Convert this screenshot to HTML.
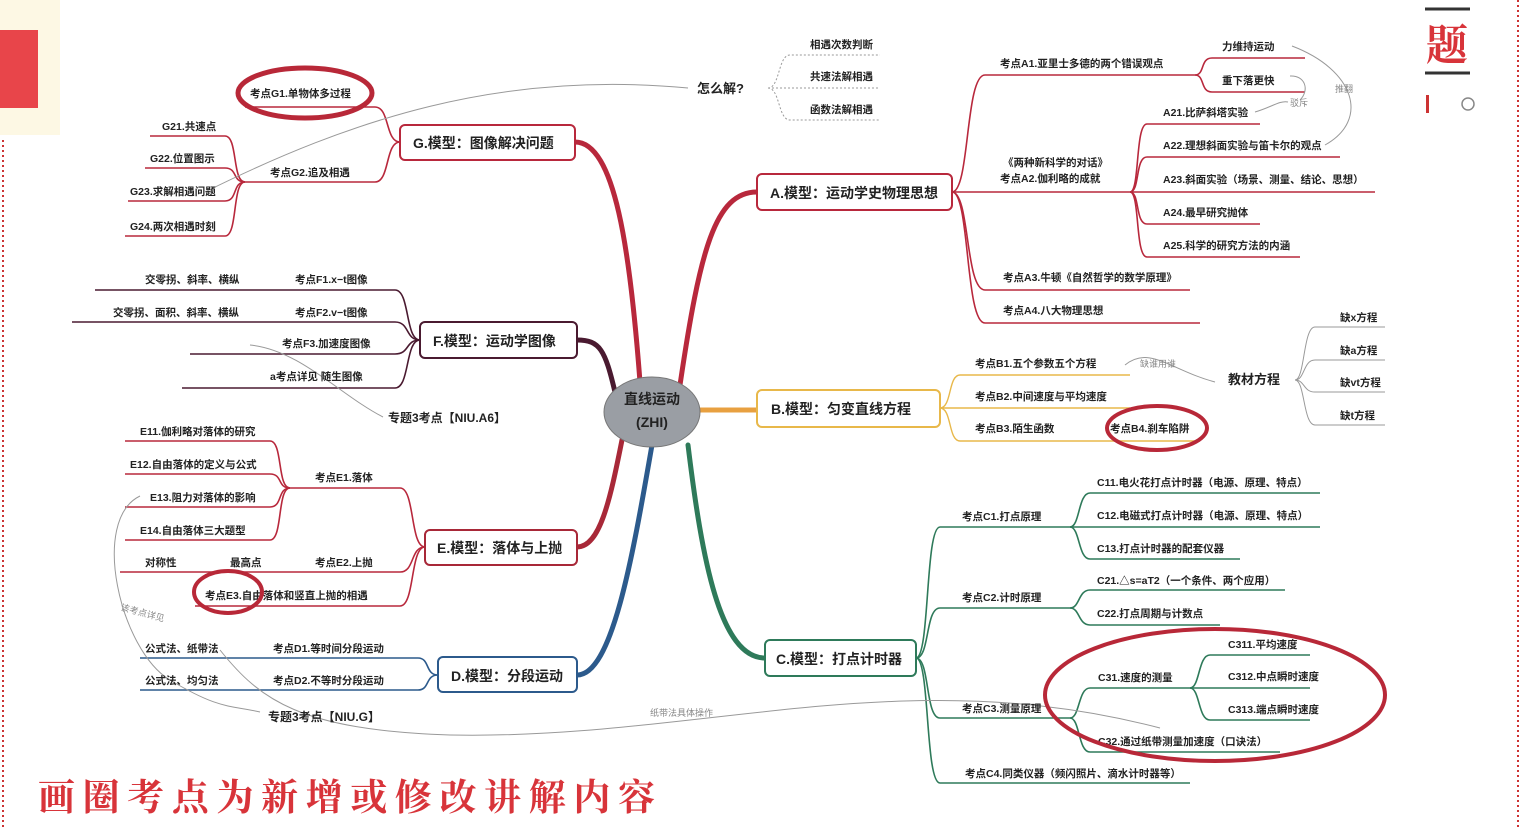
<!DOCTYPE html>
<html><head><meta charset="utf-8"><style>
html,body{margin:0;padding:0;background:#fff;}
svg{display:block;}
text{font-family:"Liberation Sans","Noto Sans CJK SC",sans-serif;font-weight:bold;fill:#222;}
.t{font-size:10.5px;}
.b{font-size:14px;}
.g{fill:#888;font-size:9px;font-weight:normal;}
</style></head><body>
<svg width="1525" height="828" viewBox="0 0 1525 828" xmlns="http://www.w3.org/2000/svg">
<rect x="0" y="0" width="60" height="135" fill="#fdf8e4"/>
<rect x="0" y="30" width="38" height="78" fill="#e8454a"/>
<line x1="3" y1="140" x2="3" y2="828" stroke="#c33" stroke-width="2" stroke-dasharray="2,3"/>
<line x1="1518" y1="0" x2="1518" y2="828" stroke="#c33" stroke-width="2" stroke-dasharray="2,3"/>
<line x1="1425" y1="9" x2="1470" y2="9" stroke="#333" stroke-width="3"/>
<line x1="1425" y1="73" x2="1470" y2="73" stroke="#333" stroke-width="3"/>
<text x="1447" y="60" text-anchor="middle" style="font-size:42px;fill:#d8343a;font-family:'Liberation Serif','Noto Serif CJK SC',serif">题</text>
<rect x="1426" y="95" width="3" height="18" fill="#c33"/>
<circle cx="1468" cy="104" r="6" fill="none" stroke="#888" stroke-width="1.5"/>

<g fill="none" stroke-width="5" stroke-linecap="round">
<path d="M680 385 C700 250 715 192 757 192" stroke="#b8283c"/>
<path d="M640 382 C630 250 615 142 575 142" stroke="#b8283c"/>
<path d="M615 392 C605 350 600 340 577 340" stroke="#4a1a30"/>
<path d="M622 440 C610 500 600 547 577 547" stroke="#a82838"/>
<path d="M652 445 C632 560 612 675 577 675" stroke="#2c5a8c"/>
<path d="M688 445 C702 560 720 658 765 658" stroke="#2e7a5a"/>
<path d="M700 410 H757" stroke="#e8a040"/>
</g>

<g fill="none" stroke="#b8283c" stroke-width="1.6">
<path d="M400 142 C385 142 390 107 375 107 H245"/>
<path d="M400 142 C385 142 390 182 375 182 H245"/>
<path d="M245 182 C232 182 238 136 225 136 H150"/>
<path d="M245 182 C232 182 238 168 225 168 H145"/>
<path d="M245 182 C232 182 238 201 225 201 H128"/>
<path d="M245 182 C232 182 238 236 225 236 H125"/>
<path d="M425 547 C410 547 415 488 400 488 H290"/>
<path d="M425 547 C410 547 415 572 400 572 H120"/>
<path d="M425 547 C410 547 415 606 400 606 H195"/>
<path d="M290 488 C277 488 283 441 270 441 H125"/>
<path d="M290 488 C277 488 283 474 270 474 H125"/>
<path d="M290 488 C277 488 283 507 270 507 H125"/>
<path d="M290 488 C277 488 283 540 270 540 H125"/>
<path d="M952 192 C970 192 965 75 985 75 H1195"/>
<path d="M952 192 H1130"/>
<path d="M952 192 C970 192 965 290 985 290 H1190"/>
<path d="M952 192 C970 192 965 323 985 323 H1200"/>
<path d="M1195 75 C1205 75 1200 58 1212 58 H1305"/>
<path d="M1195 75 C1205 75 1200 92 1212 92 H1305"/>
<path d="M1130 192 C1140 192 1135 124 1147 124 H1260"/>
<path d="M1130 192 C1140 192 1135 157 1147 157 H1340"/>
<path d="M1130 192 H1375"/>
<path d="M1130 192 C1140 192 1135 224 1147 224 H1260"/>
<path d="M1130 192 C1140 192 1135 257 1147 257 H1300"/>
</g>
<g fill="none" stroke="#4a1a30" stroke-width="1.6">
<path d="M420 340 C405 340 410 290 395 290 H95"/>
<path d="M420 340 C405 340 410 322 395 322 H72"/>
<path d="M420 340 C405 340 410 354 395 354 H190"/>
<path d="M420 340 C405 340 410 388 395 388 H182"/>
</g>
<g fill="none" stroke="#2c5a8c" stroke-width="1.6">
<path d="M438 675 C425 675 430 658 418 658 H140"/>
<path d="M438 675 C425 675 430 690 418 690 H140"/>
</g>
<g fill="none" stroke="#e8b84a" stroke-width="1.4">
<path d="M940 408 C952 408 948 375 960 375 H1130"/>
<path d="M940 408 H1130"/>
<path d="M940 408 C952 408 948 441 960 441 H1200"/>
</g>
<g fill="none" stroke="#2e7a5a" stroke-width="1.6">
<path d="M916 658 C930 658 925 527 940 527 H1070"/>
<path d="M916 658 C930 658 925 608 940 608 H1070"/>
<path d="M916 658 C930 658 925 718 940 718 H1070"/>
<path d="M916 658 C930 658 925 783 940 783 H1190"/>
<path d="M1070 527 C1080 527 1078 493 1090 493 H1320"/>
<path d="M1070 527 H1320"/>
<path d="M1070 527 C1080 527 1078 559 1090 559 H1240"/>
<path d="M1070 608 C1080 608 1078 590 1090 590 H1285"/>
<path d="M1070 608 C1080 608 1078 625 1090 625 H1220"/>
<path d="M1070 718 C1080 718 1078 688 1090 688 H1190"/>
<path d="M1070 718 C1080 718 1078 752 1090 752 H1280"/>
<path d="M1190 688 C1200 688 1198 655 1210 655 H1310"/>
<path d="M1190 688 H1310"/>
<path d="M1190 688 C1200 688 1198 720 1210 720 H1310"/>
</g>
<g fill="none" stroke="#999" stroke-width="1">
<path d="M1295 380 C1305 380 1303 327 1315 327 H1385"/>
<path d="M1295 380 C1305 380 1303 360 1315 360 H1385"/>
<path d="M1295 380 C1305 380 1303 392 1315 392 H1385"/>
<path d="M1295 380 C1305 380 1303 425 1315 425 H1385"/>
<path d="M768 88 C780 88 778 55 790 55 H880" stroke-dasharray="2,2"/>
<path d="M768 88 H880" stroke-dasharray="2,2"/>
<path d="M768 88 C780 88 778 120 790 120 H880" stroke-dasharray="2,2"/>
<path d="M205 192 C350 120 500 70 688 88"/>
<path d="M250 345 C300 350 340 395 383 417"/>
<path d="M140 496 C90 520 120 650 170 680 S230 705 260 712"/>
<path d="M220 650 C260 700 300 730 450 735 C700 740 900 660 1160 728"/>
<path d="M1125 365 C1150 345 1170 370 1215 382"/>
<path d="M1255 112 C1270 108 1280 100 1288 102"/>
<path d="M1300 100 C1310 90 1305 75 1290 76"/>
<path d="M1325 145 C1370 120 1355 70 1292 46"/>
</g>

<g stroke-width="2" fill="#fff">
<rect x="400" y="125" width="175" height="35" rx="5" stroke="#b8283c"/>
<rect x="420" y="322" width="157" height="36" rx="5" stroke="#4a1a30"/>
<rect x="425" y="530" width="152" height="35" rx="5" stroke="#a82838"/>
<rect x="438" y="657" width="139" height="35" rx="5" stroke="#2c5a8c"/>
<rect x="757" y="174" width="195" height="36" rx="5" stroke="#b8283c"/>
<rect x="757" y="390" width="183" height="37" rx="5" stroke="#e8b84a"/>
<rect x="765" y="640" width="151" height="36" rx="5" stroke="#2e7a5a"/>
</g>
<ellipse cx="652" cy="412" rx="48" ry="35" fill="#9a9ea4" stroke="#777"/>
<text x="652" y="404" text-anchor="middle" class="b" style="fill:#222">直线运动</text>
<text x="652" y="427" text-anchor="middle" class="b" style="fill:#222">(ZHI)</text>

<g class="b">
<text x="413" y="148" class="b">G.模型：图像解决问题</text>
<text x="433" y="346" class="b">F.模型：运动学图像</text>
<text x="437" y="553" class="b">E.模型：落体与上抛</text>
<text x="451" y="681" class="b">D.模型：分段运动</text>
<text x="770" y="198" class="b">A.模型：运动学史物理思想</text>
<text x="771" y="414" class="b">B.模型：匀变直线方程</text>
<text x="776" y="664" class="b">C.模型：打点计时器</text>
</g>

<g class="t">
<text x="250" y="97">考点G1.单物体多过程</text>
<text x="270" y="176">考点G2.追及相遇</text>
<text x="162" y="130">G21.共速点</text>
<text x="150" y="162">G22.位置图示</text>
<text x="130" y="195">G23.求解相遇问题</text>
<text x="130" y="230">G24.两次相遇时刻</text>
<text x="145" y="283">交零拐、斜率、横纵</text>
<text x="295" y="283">考点F1.x−t图像</text>
<text x="113" y="316">交零拐、面积、斜率、横纵</text>
<text x="295" y="316">考点F2.v−t图像</text>
<text x="282" y="347">考点F3.加速度图像</text>
<text x="270" y="380">a考点详见 随生图像</text>
<text x="140" y="435">E11.伽利略对落体的研究</text>
<text x="130" y="468">E12.自由落体的定义与公式</text>
<text x="150" y="501">E13.阻力对落体的影响</text>
<text x="140" y="534">E14.自由落体三大题型</text>
<text x="315" y="481">考点E1.落体</text>
<text x="145" y="566">对称性</text>
<text x="230" y="566">最高点</text>
<text x="315" y="566">考点E2.上抛</text>
<text x="205" y="599">考点E3.自由落体和竖直上抛的相遇</text>
<text x="145" y="652">公式法、纸带法</text>
<text x="273" y="652">考点D1.等时间分段运动</text>
<text x="145" y="684">公式法、均匀法</text>
<text x="273" y="684">考点D2.不等时分段运动</text>
<text x="810" y="48">相遇次数判断</text>
<text x="810" y="80">共速法解相遇</text>
<text x="810" y="113">函数法解相遇</text>
<text x="1000" y="67">考点A1.亚里士多德的两个错误观点</text>
<text x="1222" y="50">力维持运动</text>
<text x="1222" y="84">重下落更快</text>
<text x="1003" y="166">《两种新科学的对话》</text>
<text x="1000" y="182">考点A2.伽利略的成就</text>
<text x="1163" y="116">A21.比萨斜塔实验</text>
<text x="1163" y="149">A22.理想斜面实验与笛卡尔的观点</text>
<text x="1163" y="183">A23.斜面实验（场景、测量、结论、思想）</text>
<text x="1163" y="216">A24.最早研究抛体</text>
<text x="1163" y="249">A25.科学的研究方法的内涵</text>
<text x="1003" y="281">考点A3.牛顿《自然哲学的数学原理》</text>
<text x="1003" y="314">考点A4.八大物理思想</text>
<text x="975" y="367">考点B1.五个参数五个方程</text>
<text x="975" y="400">考点B2.中间速度与平均速度</text>
<text x="975" y="432">考点B3.陌生函数</text>
<text x="1110" y="432">考点B4.刹车陷阱</text>
<text x="1340" y="321">缺x方程</text>
<text x="1340" y="354">缺a方程</text>
<text x="1340" y="386">缺vt方程</text>
<text x="1340" y="419">缺t方程</text>
<text x="962" y="520">考点C1.打点原理</text>
<text x="962" y="601">考点C2.计时原理</text>
<text x="962" y="712">考点C3.测量原理</text>
<text x="965" y="777">考点C4.同类仪器（频闪照片、滴水计时器等）</text>
<text x="1097" y="486">C11.电火花打点计时器（电源、原理、特点）</text>
<text x="1097" y="519">C12.电磁式打点计时器（电源、原理、特点）</text>
<text x="1097" y="552">C13.打点计时器的配套仪器</text>
<text x="1097" y="584">C21.△s=aT2（一个条件、两个应用）</text>
<text x="1097" y="617">C22.打点周期与计数点</text>
<text x="1098" y="681">C31.速度的测量</text>
<text x="1228" y="648">C311.平均速度</text>
<text x="1228" y="680">C312.中点瞬时速度</text>
<text x="1228" y="713">C313.端点瞬时速度</text>
<text x="1098" y="745">C32.通过纸带测量加速度（口诀法）</text>
</g>
<text x="697" y="93" style="font-size:13px">怎么解?</text>
<text x="1228" y="384" style="font-size:13px">教材方程</text>
<text x="388" y="422" style="font-size:12px">专题3考点【NIU.A6】</text>
<text x="268" y="721" style="font-size:12px">专题3考点【NIU.G】</text>
<text x="1140" y="367" class="g">缺谁用谁</text>
<text x="1290" y="106" class="g">驳斥</text>
<text x="1335" y="92" class="g">推翻</text>
<text x="650" y="716" class="g">纸带法具体操作</text>
<text x="120" y="610" class="g" transform="rotate(15 120 610)">该考点详见</text>

<g fill="none" stroke="#b82838">
<ellipse cx="305" cy="93" rx="67" ry="25" stroke-width="5"/>
<ellipse cx="228" cy="592" rx="34" ry="21" stroke-width="4"/>
<ellipse cx="1157" cy="428" rx="50" ry="22" stroke-width="4"/>
<ellipse cx="1215" cy="695" rx="170" ry="66" stroke-width="4"/>
</g>

<text x="38" y="810" textLength="617" lengthAdjust="spacing" style="font-size:37px;fill:#d8343a;font-family:'Liberation Serif','Noto Serif CJK SC',serif">画圈考点为新增或修改讲解内容</text>
</svg>
</body></html>
